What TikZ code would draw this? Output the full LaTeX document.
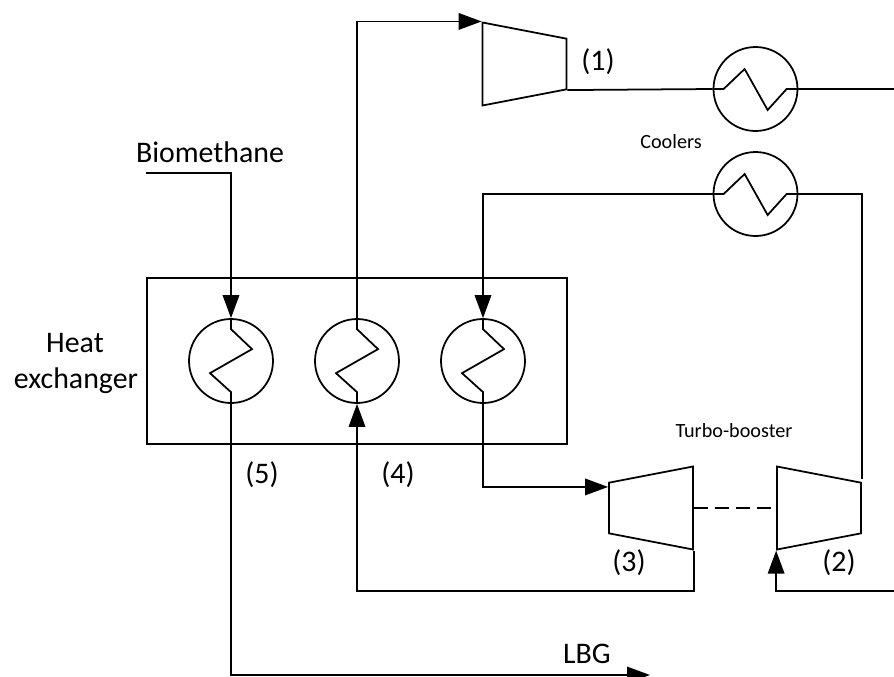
\documentclass[tikz,border=0pt]{standalone}
\usepackage{fontspec}
\setmainfont{Carlito}
\usetikzlibrary{arrows.meta,shapes.geometric}
\tikzset{
  pipe/.style={line width=1pt,line join=miter},
  flow/.style={pipe,-{Triangle[length=0.46cm,width=0.33cm]}},
  exch/.style={circle,draw,line width=1pt,minimum size=1.68cm,inner sep=0pt},
  comp/.style={trapezium,draw,line width=1pt,inner sep=2pt,trapezium stretches=true,
    trapezium angle=72.3,minimum width=1.66cm,minimum height=1.68cm},
  big/.style={font=\fontsize{17}{20}\selectfont,inner sep=0pt},
  small/.style={font=\fontsize{11.5}{14}\selectfont,inner sep=0pt}
}
\begin{document}
\begin{tikzpicture}[x=0.02cm,y=0.02cm]
      \useasboundingbox (0,0) rectangle (894,-677);
      % heat exchanger
      \node [draw,line width=1pt,minimum width=8.4cm,minimum height=3.32cm] (hxBox) at (357,-361) {};
      \node [exch] (hxA) at (231,-361) {};
      \node [exch] (hxB) at (357,-361) {};
      \node [exch] (hxC) at (483,-361) {};
      \foreach \n in {hxA,hxB,hxC}
        \draw [pipe] (\n.north) -- ++(0,-11) -- ++(21,-20) -- ++(-42,-24) -- ++(21,-19) -- (\n.south);
      % coolers
      \node [exch] (coolA) at (755.5,-89) {};
      \node [exch] (coolB) at (755.5,-194) {};
      \foreach \n in {coolA,coolB}
        \draw [pipe] (\n.west) -- ++(11,0) -- ++(21,20) -- ++(23,-41) -- ++(19,21) -- (\n.east);
      % machines
      \node [comp,shape border rotate=270] (compA) at (524.5,-64) {};
      \node [comp,shape border rotate=90] (compC) at (651,-508) {};
      \node [comp,shape border rotate=270] (turbB) at (819,-508) {};
      % free ends
      \coordinate (feedIn) at (146,-173);
      \coordinate (gasOut) at (894,-89);
      \coordinate (gasIn) at (894,-591);
      \coordinate (lbgEnd) at (650,-675);
      \coordinate (retA) at (357,-591);
      % labels
      \node [big] (lbFeed) at (210,-152) {Biomethane};
      \node [big] (lbHeat) at (75,-343) {Heat};
      \node [big] (lbExch) at (76,-381) {exchanger};
      \node [big] (lbOne) at (598,-62) {(1)};
      \node [big] (lbTwo) at (839,-563) {(2)};
      \node [big] (lbThree) at (629,-563) {(3)};
      \node [big] (lbFour) at (398,-475) {(4)};
      \node [big] (lbFive) at (262,-475) {(5)};
      \node [big] (lbLbg) at (587,-654) {LBG};
      \node [small] (lbCool) at (671,-142) {Coolers};
      \node [small] (lbTurbo) at (734,-431) {Turbo-booster};
      % pipes
      \draw [flow] (feedIn) -| (hxA.north);
      \draw [flow] (hxB.north) |- (compA.bottom left corner);
      \draw [pipe] (compA.top right corner) -- (coolA.west);
      \draw [pipe] (coolA.east) -- (gasOut);
      \draw [pipe] (coolB.east) -| ([yshift=0.06cm]turbB.top left corner);
      \draw [flow] (coolB.west) -| (hxC.north);
      \draw [flow] (hxC.south) |- ([yshift=-0.1cm]compC.top right corner);
      \draw [pipe,dash pattern=on 0.28cm off 0.14cm] (compC.bottom side) -- (turbB.bottom side);
      \draw [flow] (compC.bottom left corner) |- (retA) -- (hxB.south);
      \draw [flow] (gasIn) -| (turbB.bottom right corner);
      \draw [flow] (hxA.south) |- (lbgEnd);
    \end{tikzpicture}
\end{document}
